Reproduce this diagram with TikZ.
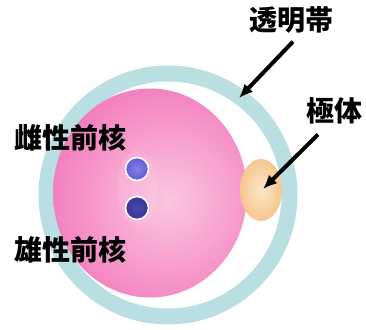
\documentclass[tikz,border=0pt]{standalone}
\usepackage{fontspec}
\newfontfamily\jpfont{Noto Sans CJK JP}
\usetikzlibrary{calc}
\usetikzlibrary{arrows.meta}

\definecolor{zona}{HTML}{BADFE2}
\definecolor{eggout}{HTML}{F27BBB}
\definecolor{eggin}{HTML}{FBC6E1}
\definecolor{polarout}{HTML}{F5C68E}
\definecolor{polarin}{HTML}{FDE6C8}
\definecolor{femaleN}{HTML}{5E5AD8}
\definecolor{maleN}{HTML}{3B3790}

\tikzset{
  jptag/.style={font=\jpfont\bfseries\fontsize{28}{30}\selectfont,inner sep=1pt},
  pointer/.style={line width=4pt,-{Latex[length=14pt,width=12pt]}},
  pronucleus/.style={circle,draw=white,line width=1.6pt,minimum size=23pt,inner sep=0pt},
}

\begin{document}
\begin{tikzpicture}[x=1pt,y=-1pt]
    \useasboundingbox (0,0) rectangle (366,329);

    % zona pellucida
    \draw[zona,line width=16pt] (168,195) circle (121.5);

    % egg, lighter a bit right of its middle
    \begin{scope}
        \clip (150,193) ellipse (97 and 104.5);
        \shade[inner color=eggin,outer color=eggout] (168,200) circle (125);
    \end{scope}

    % polar body, sitting on the right side of the egg
    \shade[inner color=polarin,outer color=polarout] (261,190) ellipse (21 and 31);

    % faint halo round the pronuclei
    \fill[white,opacity=0.1] (137,188) ellipse (20 and 38);
    \node[pronucleus,inner color=femaleN!75!white,outer color=femaleN] (fn) at (137,169) {};
    \node[pronucleus,inner color=maleN!60!femaleN,outer color=maleN] (mn) at (137,208) {};

    \node[jptag] (lbZP) at (291,20) {透明帯};
    \node[jptag] (lbPB) at (334,111) {極体};
    \node[jptag] (lbFN) at (70,138) {雌性前核};
    \node[jptag] (lbMN) at (70,250) {雄性前核};

    \path (239,98) coordinate (zpTip) (263,189) coordinate (pbTip);
    \draw[pointer] ($(lbZP.south)+(2,7)$) -- (zpTip);
    \draw[pointer] ($(lbPB.south)+(-16,9)$) -- (pbTip);
\end{tikzpicture}
\end{document}
